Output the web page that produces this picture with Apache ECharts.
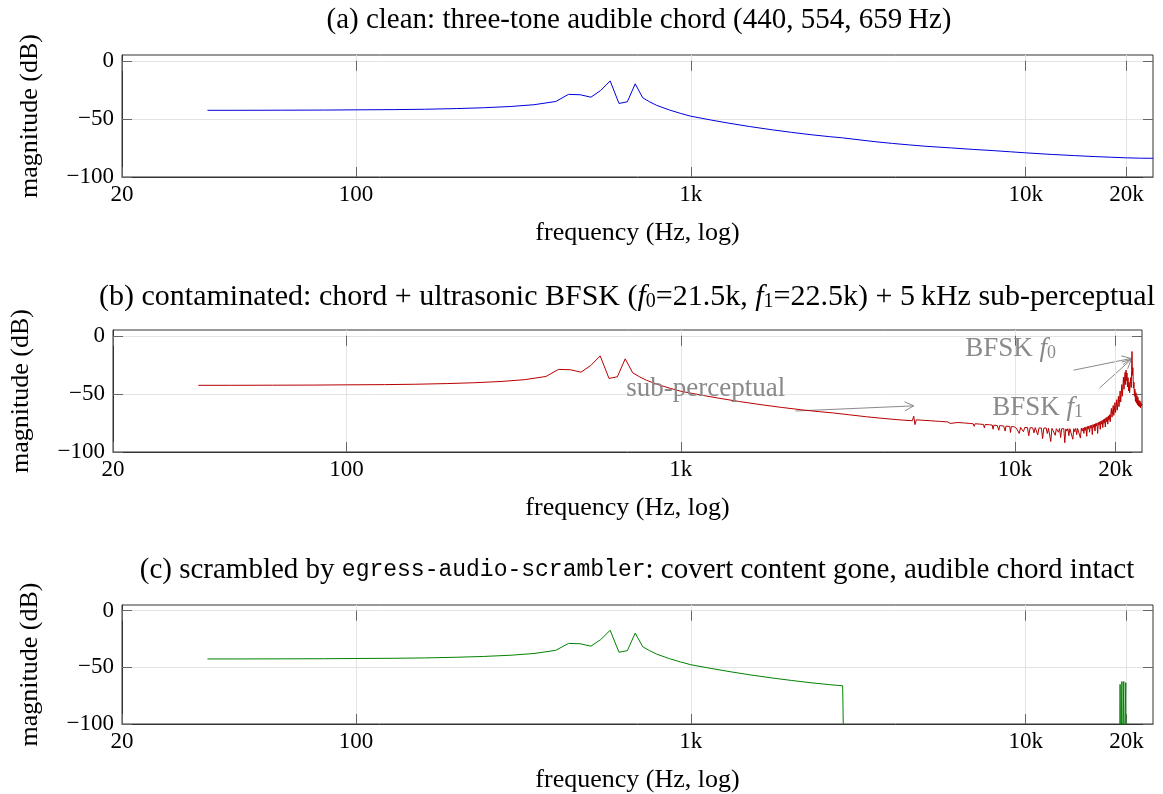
<!DOCTYPE html>
<html><head><meta charset="utf-8">
<script src="https://cdn.jsdelivr.net/npm/echarts@6/dist/echarts.min.js"></script>
<style>html,body{margin:0;padding:0;background:#fff}#c{width:1163px;height:794px}</style>
</head><body><div id="c"></div>
<script>
// ---------------- data ----------------
const xTicks = [20, 100, 1000, 10000, 20000];
const xTickLabels = ['20', '100', '1k', '10k', '20k'];
const yTicks = [-100, -50, 0];

// shared audible chord band [Hz, dB]
const chordBand = [[36,-42.6],[45,-42.6],[60,-42.5],[80,-42.4],[100,-42.2],[130,-42.0],[160,-41.7],[200,-41.1],[240,-40.4],[290,-39.3],[340,-37.8],[395,-35.0],[431,-28.9],[467,-29.2],[503,-31.3],[538,-25.5],[574,-17.3],[610,-36.7],[646,-35.3],[682,-19.8],[718,-31.8],[754,-35.4],[790,-38.3],[862,-42.3],[933,-45.3],[1000,-47.7],[1150,-51.0],[1300,-53.7],[1500,-56.6],[1750,-59.4],[2000,-61.6],[2300,-63.7],[2600,-65.3],[2840,-66.3]];

// (a) clean tail
const cleanTail = [[3200,-68.1],[3600,-69.8],[4000,-71.1],[4500,-72.4],[5000,-73.5],[6000,-75.0],[7000,-76.3],[8000,-77.3],[9000,-78.3],[10000,-79.2],[12000,-80.6],[14000,-81.6],[16000,-82.4],[18000,-83.0],[20000,-83.5],[22000,-83.8],[24000,-83.9]];

// (b) contaminated tail: 5 kHz tone, noise floor, BFSK cluster
const contaminatedTail = [[3200,-68.0],[3600,-69.7],[4000,-71.0],[4500,-72.3],[4930,-73.1],[4980,-69.2],[5020,-76.4],[5070,-72.3],[5300,-72.7],[5600,-73.1],[5900,-73.6],[5950,-74.6],[6000,-73.7],[6300,-74.1],[6400,-75.4],[6450,-74.2],[6750,-74.6],[6950,-74.9],[7000,-76.3],[7050,-75.0],[7300,-75.4],[7500,-75.7],[7550,-77.9],[7600,-75.7],[7850,-76.0],[8050,-76.3],[8100,-79.2],[8150,-76.3],[8400,-76.6],[8550,-76.8],[8600,-80.4],[8650,-76.9],[8850,-77.2],[8950,-81.3],[9000,-77.3],[9250,-77.6],[9350,-82.0],[9400,-77.7],[9650,-78.0],[9700,-83.2],[9750,-78.1],[9950,-78.3],
[10000,-78.6],[10100,-79.5],[10200,-78.7],[10300,-84.0],[10400,-78.8],[10500,-79.2],[10600,-82.5],[10700,-78.9],[10800,-80.1],[10900,-79.0],[11000,-86.0],[11100,-79.1],[11200,-80.8],[11300,-79.2],[11400,-83.5],[11500,-79.0],[11600,-79.6],[11700,-85.2],[11800,-79.3],[11900,-80.4],[12000,-79.4],[12100,-88.5],[12200,-79.5],[12300,-81.2],[12400,-79.3],[12500,-84.1],[12600,-79.6],[12700,-80.0],[12800,-91.0],[12900,-79.7],[13000,-81.5],[13100,-79.8],[13200,-85.6],[13300,-79.9],[13400,-80.2],[13500,-83.0],[13600,-79.8],[13700,-87.5],[13800,-80.0],[13900,-81.4],[14000,-79.9],[14100,-92.0],[14200,-80.1],[14300,-82.0],[14400,-79.9],[14500,-86.0],[14600,-80.0],[14700,-81.2],[14800,-79.8],[14900,-89.0],[15000,-80.0],[15100,-82.5],[15200,-79.7],[15300,-85.0],[15400,-79.8],[15500,-81.0],[15600,-79.6],[15700,-88.0],[15800,-79.5],[15900,-82.0],[16000,-79.3],
[16080,-84.0],[16160,-78.8],[16240,-81.5],[16320,-78.4],[16400,-86.5],[16480,-78.0],[16560,-80.2],[16640,-77.6],[16720,-83.0],[16800,-77.2],[16880,-79.5],[16960,-76.8],[17040,-85.0],[17120,-76.4],[17200,-78.8],[17280,-75.9],[17360,-82.0],[17440,-75.5],[17520,-77.6],[17600,-75.0],[17680,-84.0],[17760,-74.5],[17840,-76.8],[17920,-74.0],[18000,-80.5],[18080,-73.4],[18160,-76.0],[18240,-72.8],[18320,-79.0],[18400,-72.1],[18480,-75.2],[18560,-71.4],[18640,-78.5],[18720,-70.6],[18800,-73.8],[18880,-69.8],[18960,-76.0],[19040,-68.9],[19120,-72.5],[19200,-67.9],
[19280,-74.0],[19360,-66.8],[19440,-62.5],[19520,-70.0],[19600,-65.5],[19680,-60.0],[19760,-68.5],[19840,-63.8],[19920,-57.5],[20000,-66.0],[20080,-61.5],[20160,-55.0],[20240,-64.0],[20320,-58.5],[20400,-52.0],[20480,-61.0],[20560,-55.0],[20640,-47.5],[20720,-57.0],[20800,-50.5],[20880,-42.0],[20960,-52.0],[21040,-44.0],[21120,-35.5],[21200,-46.0],[21280,-38.0],[21360,-31.5],[21440,-42.0],[21500,-29.5],[21560,-38.5],[21640,-32.0],[21720,-44.0],[21800,-36.0],[21880,-47.5],[21960,-40.0],[22040,-49.0],[22120,-41.5],[22200,-36.0],[22280,-44.5],[22340,-30.0],[22400,-13.5],[22460,-34.0],[22540,-27.5],[22620,-45.0],[22700,-40.0],[22780,-52.0],[22860,-46.0],[22940,-56.5],[23020,-49.0],[23100,-58.0],[23180,-51.5],[23260,-59.5],[23340,-53.0],[23420,-60.5],[23500,-55.5],[23580,-61.0],[23660,-56.0],[23740,-62.0],[23820,-57.5],[23900,-60.5],[24000,-59.0]];

// (c) scrambled tail: band above ~2.85 kHz removed, a few residual lines near 19-20 kHz
const scrambledTail = [[2870,-150],[19080,-150],[19140,-65],[19200,-150],[19320,-150],[19380,-62.5],[19440,-150],[19580,-150],[19630,-62.5],[19680,-150],[19850,-150],[19900,-63.5],[19950,-150],[24000,-150]];

// annotations on panel (b): [Hz, dB]
const subArrow = [[2204,-64.7],[4980,-60.3]];
const f0Arrow = [[14970,-29.6],[22250,-19.5]];
const f1Arrow = [[17930,-44.8],[22300,-20.3]];
const subLabelAt = [687,-46];
const f0LabelAt = [7100,-11.5];
const f1LabelAt = [8550,-62.3];

const panelTitles = [
  '(a) clean: three-tone audible chord (440, 554, 659\u2009Hz)',
  '(b) contaminated: chord + ultrasonic BFSK ({i|f}{s|0}=21.5k, {i|f}{s|1}=22.5k) + 5\u2009kHz sub-perceptual',
  '(c) scrambled by {m|egress-audio-scrambler}: covert content gone, audible chord intact'
];
const xName = 'frequency (Hz, log)';
const yName = 'magnitude (dB)';

// ---------------- chart ----------------
const SERIF = '"Liberation Serif", "Times New Roman", serif';
const MONO = '"Liberation Mono", "DejaVu Sans Mono", monospace';
const colors = ['#0000dd', '#b80000', '#008000'];
const grids = [
  {left:122, right:10, top:55, height:122},
  {left:113, right:21, top:330, height:122},
  {left:122, right:10, top:605, height:122}
];
const titlePos = [[639,20],[627,297],[637,570]];
const titleSize = [29, 30, 29];

function tickLabel(v){
  let best=0, bd=1e9;
  xTicks.forEach((t,i)=>{const d=Math.abs(Math.log(v/t)); if(d<bd){bd=d;best=i;}});
  return xTickLabels[best];
}
const xAxes=[], yAxes=[];
grids.forEach((g,i)=>{
  xAxes.push({type:'log', logBase:10, gridIndex:i, min:20, max:24000, position:'bottom',
    axisLine:{show:true, onZero:false, lineStyle:{color:'#333', width:1}},
    axisTick:{show:true, inside:true, length:10, customValues:xTicks, lineStyle:{color:'#666'}},
    axisLabel:{show:true, customValues:xTicks, formatter:tickLabel, fontFamily:SERIF, fontSize:23, color:'#000', margin:6},
    splitLine:{show:true, lineStyle:{color:'#e3e3e3', width:1}},
    minorTick:{show:false}, minorSplitLine:{show:false},
    name:xName, nameLocation:'middle', nameGap:43,
    nameTextStyle:{fontFamily:SERIF, fontSize:26, color:'#000'}});
  yAxes.push({type:'value', gridIndex:i, min:-100, max:5, interval:50, position:'left',
    axisLine:{show:true, onZero:false, lineStyle:{color:'#333', width:1}},
    axisTick:{show:true, inside:true, length:10, customValues:yTicks, lineStyle:{color:'#666'}},
    axisLabel:{show:true, customValues:yTicks, formatter:v=>String(v).replace('-','\u2212'), fontFamily:SERIF, fontSize:23, color:'#000', margin:8},
    splitLine:{show:true, lineStyle:{color:'#e3e3e3', width:1}},
    name:yName, nameLocation:'middle', nameRotate:90, nameGap:79,
    nameTextStyle:{fontFamily:SERIF, fontSize:26, color:'#000'}});
});
grids.forEach((g,i)=>{
  xAxes.push({type:'log', logBase:10, gridIndex:i, min:20, max:24000, position:'top',
    axisLine:{show:false}, axisLabel:{show:false}, splitLine:{show:false},
    axisTick:{show:true, inside:true, length:10, customValues:xTicks, lineStyle:{color:'#666'}}});
  yAxes.push({type:'value', gridIndex:i, min:-100, max:5, interval:50, position:'right',
    axisLine:{show:false}, axisLabel:{show:false}, splitLine:{show:false},
    axisTick:{show:true, inside:true, length:10, customValues:yTicks, lineStyle:{color:'#666'}}});
});

const seriesData = [chordBand.concat(cleanTail), chordBand.concat(contaminatedTail), chordBand.concat(scrambledTail)];
const series = seriesData.map((d,i)=>({type:'line', xAxisIndex:i, yAxisIndex:i, data:d,
  showSymbol:false, symbol:'none', clip:true, z:5,
  lineStyle:{width:1, color:colors[i]}, itemStyle:{color:colors[i]}}));

function richT(fs){ return {
  i:{fontFamily:SERIF, fontStyle:'italic', fontSize:fs, color:'#000'},
  s:{fontFamily:SERIF, fontSize:Math.round(fs*0.66), color:'#000', verticalAlign:'bottom', lineHeight:17},
  m:{fontFamily:MONO, fontSize:23, color:'#000'}
};}
const titleGraphics = panelTitles.map((t,i)=>({type:'text', x:titlePos[i][0], y:titlePos[i][1], silent:true,
  style:{text:t, fill:'#000', fontFamily:SERIF, fontSize:titleSize[i], align:'center', verticalAlign:'middle', rich:richT(titleSize[i])}}));

const chart = echarts.init(document.getElementById('c'));
chart.setOption({
  animation:false,
  backgroundColor:'#fff',
  grid: grids.map(g=>Object.assign({show:true, borderColor:'#333', borderWidth:1, backgroundColor:'transparent'}, g)),
  xAxis:xAxes, yAxis:yAxes, series:series,
  graphic: titleGraphics
});

// annotations placed through the panel (b) coordinate system
const P = p => chart.convertToPixel({seriesIndex:1}, p);
const GRAY = '#8a8a8a';
function arrow(seg){
  const a=P(seg[0]), b=P(seg[1]);
  const dx=b[0]-a[0], dy=b[1]-a[1], L=Math.hypot(dx,dy), ux=dx/L, uy=dy/L, nx=-uy, ny=ux;
  const h=9, w=4.5;
  return [
    {type:'line', silent:true, shape:{x1:a[0],y1:a[1],x2:b[0],y2:b[1]}, style:{stroke:GRAY, lineWidth:1}},
    {type:'polyline', silent:true, shape:{points:[[b[0]-h*ux+w*nx,b[1]-h*uy+w*ny],[b[0],b[1]],[b[0]-h*ux-w*nx,b[1]-h*uy-w*ny]]}, style:{stroke:GRAY, lineWidth:1, fill:null}}
  ];
}
const richA = {
  i:{fontFamily:SERIF, fontStyle:'italic', fontSize:27, color:GRAY},
  s:{fontFamily:SERIF, fontSize:18, color:GRAY, verticalAlign:'bottom', lineHeight:16}
};
function label(at, text){
  const p=P(at);
  return {type:'text', x:p[0], y:p[1], silent:true, z:10,
    style:{text:text, fill:GRAY, fontFamily:SERIF, fontSize:27, align:'left', verticalAlign:'middle', rich:richA}};
}
const ann = [].concat(arrow(subArrow), arrow(f0Arrow), arrow(f1Arrow),
  [label(subLabelAt,'sub-perceptual'), label(f0LabelAt,'BFSK {i|f}{s|0}'), label(f1LabelAt,'BFSK {i|f}{s|1}')]);
chart.setOption({graphic: titleGraphics.concat(ann)});
</script></body></html>
